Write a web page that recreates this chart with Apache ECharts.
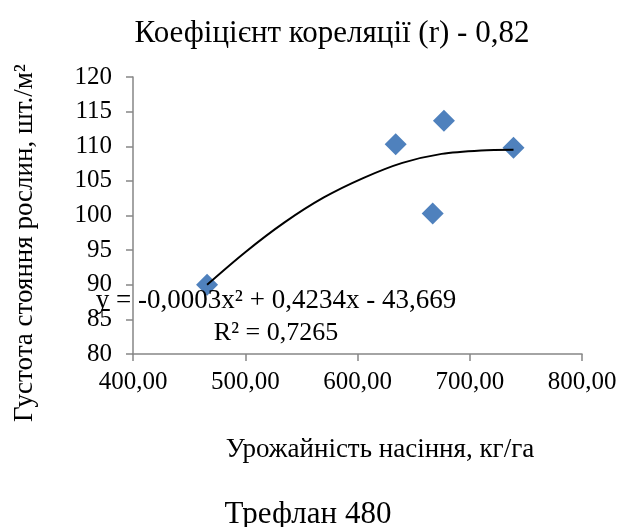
<!DOCTYPE html>
<html>
<head>
<meta charset="utf-8">
<script src="https://cdn.jsdelivr.net/npm/echarts@6/dist/echarts.min.js"></script>
<style>
  html, body { margin: 0; padding: 0; background: #fff; }
  #chart { width: 622px; height: 527px; }
</style>
</head>
<body>
<div id="chart"></div>
<script>
// точки: урожайність (кг/га) і густота стояння (шт./м²)
const yieldValues = [466, 634, 677, 667, 739]
const densityValues = [90, 110.3, 113.7, 100.3, 109.8]

// лінія тренду
const trendX = [466, 500, 535, 570, 605, 640, 675, 710, 739]
const trendY = [90, 94.7, 99.0, 102.6, 105.4, 107.6, 108.9, 109.4, 109.5]

const chartTitle = 'Коефіцієнт кореляції (r) - 0,82'
const xName = 'Урожайність насіння, кг/га'
const yName = 'Густота стояння рослин, шт./м²'
const caption = 'Трефлан 480'
const equation = 'y = -0,0003x² + 0,4234x - 43,669'
const rSquared = 'R² = 0,7265'

const font = '"Liberation Serif", "Times New Roman", serif'
const axisColor = '#868686'

const chart = echarts.init(document.getElementById('chart'))

chart.setOption({
  animation: false,
  textStyle: { fontFamily: font, color: '#000' },
  title: [
    {
      text: chartTitle,
      left: 327,
      top: 13,
      textAlign: 'center',
      textStyle: { fontFamily: font, fontSize: 31, fontWeight: 'normal', color: '#000' }
    },
    {
      text: xName,
      left: 375,
      top: 431,
      textAlign: 'center',
      textStyle: { fontFamily: font, fontSize: 27, fontWeight: 'normal', color: '#000' }
    },
    {
      text: caption,
      left: 303,
      top: 494,
      textAlign: 'center',
      textStyle: { fontFamily: font, fontSize: 31, fontWeight: 'normal', color: '#000' }
    }
  ],
  grid: {
    left: 133,
    right: 40,
    top: 77,
    bottom: 173
  },
  xAxis: {
    type: 'value',
    min: 400,
    max: 800,
    interval: 100,
    axisLine: { lineStyle: { color: axisColor, width: 1.5 } },
    axisTick: { length: 7, lineStyle: { color: axisColor, width: 1.5 } },
    axisLabel: {
      fontFamily: font,
      fontSize: 25,
      color: '#000',
      margin: 16,
      formatter: (v) => v.toFixed(2).replace('.', ',')
    },
    splitLine: { show: false }
  },
  yAxis: {
    type: 'value',
    min: 80,
    max: 120,
    interval: 5,
    axisLine: { show: true, lineStyle: { color: axisColor, width: 1.5 } },
    axisTick: { show: true, length: 7, lineStyle: { color: axisColor, width: 1.5 } },
    axisLabel: { fontFamily: font, fontSize: 25, color: '#000', margin: 21 },
    splitLine: { show: false }
  },
  graphic: [
    {
      type: 'text',
      x: 25,
      y: 243,
      rotation: Math.PI / 2,
      style: {
        text: yName,
        fontFamily: font,
        fontSize: 27,
        fill: '#000',
        align: 'center',
        verticalAlign: 'middle'
      }
    },
    {
      type: 'text',
      x: 276,
      y: 301,
      z: 100,
      style: {
        text: equation,
        fontFamily: font,
        fontSize: 27,
        fill: '#000',
        align: 'center',
        verticalAlign: 'middle'
      }
    },
    {
      type: 'text',
      x: 276,
      y: 333,
      z: 100,
      style: {
        text: rSquared,
        fontFamily: font,
        fontSize: 26,
        fill: '#000',
        align: 'center',
        verticalAlign: 'middle'
      }
    }
  ],
  series: [
    {
      name: 'Тренд',
      type: 'line',
      smooth: 0.3,
      showSymbol: false,
      z: 3,
      data: trendX.map((x, i) => [x, trendY[i]]),
      lineStyle: { color: '#000', width: 2 }
    },
    {
      name: 'Точки',
      type: 'scatter',
      symbol: 'diamond',
      symbolSize: [22, 22],
      z: 2,
      data: yieldValues.map((x, i) => [x, densityValues[i]]),
      itemStyle: { color: '#4F81BD', opacity: 1 }
    }
  ]
})
</script>
</body>
</html>
